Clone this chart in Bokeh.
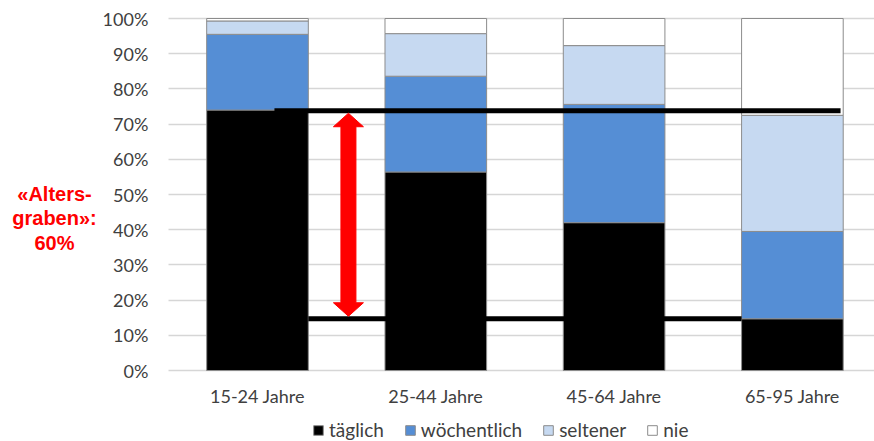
from bokeh.plotting import figure
from bokeh.models import Range1d, FixedTicker, Label, BoxAnnotation
from bokeh.embed import file_html
from bokeh.resources import INLINE

# ---- data ----
categories = ["15-24 Jahre", "25-44 Jahre", "45-64 Jahre", "65-95 Jahre"]
taeglich = [74.0, 56.4, 42.0, 14.7]
woechentlich = [21.5, 27.2, 33.6, 24.8]
seltener = [3.8, 12.1, 16.7, 33.0]
nie = [0.7, 4.3, 7.7, 27.5]
series_names = ["täglich", "wöchentlich", "seltener", "nie"]
y_ticks = [0, 10, 20, 30, 40, 50, 60, 70, 80, 90, 100]
y_tick_labels = [f"{t}%" for t in y_ticks]
gap_high = 73.8   # level of "täglich" for 15-24
gap_low = 14.7    # level of "täglich" for 65-95
gap_text = ["«Alters-", "graben»:", "60%"]

# ---- styling / layout ----
colors = ["#000000", "#558ED5", "#C6D9F1", "#FFFFFF"]
FONT = "Lato"
TXT = "#404040"
W, H = 874, 441
CAT1_PX = 257.0     # pixel centre of first category
CAT_PX = 178.3      # pixels per category
BASE_PX = 370.0     # pixel row of 0 %
PCT_PX = 3.52       # pixels per percent
BAR_W = 0.57

x0 = 1 - CAT1_PX / CAT_PX
x1 = 1 + (W - CAT1_PX) / CAT_PX
y0 = -(H - BASE_PX) / PCT_PX
y1 = BASE_PX / PCT_PX
px_x = 1.0 / CAT_PX
px_y = 1.0 / PCT_PX
x_left = 0.5        # left edge of plotting area (category slot edge)

xs = list(range(1, len(categories) + 1))
source = dict(x=xs, **{"täglich": taeglich, "wöchentlich": woechentlich,
                       "seltener": seltener, "nie": nie})

p = figure(width=W, height=H, output_backend="svg", toolbar_location=None,
           x_range=Range1d(x0, x1), y_range=Range1d(y0, y1),
           min_border_left=0, min_border_right=0,
           min_border_top=0, min_border_bottom=0)
p.outline_line_color = None
p.background_fill_color = "white"
p.border_fill_color = "white"

# grid
p.xgrid.grid_line_color = None
p.ygrid.grid_line_color = "#d6d6d6"
p.ygrid.grid_line_width = 1.4
p.ygrid.ticker = FixedTicker(ticks=y_ticks)
if hasattr(p.ygrid[0], "cross_bounds"):
    p.ygrid.cross_bounds = (x_left, x1)
else:
    p.add_layout(BoxAnnotation(right=x_left, fill_color="white", fill_alpha=1,
                               line_alpha=0, level="underlay"))

p.vbar_stack(series_names, x="x", width=BAR_W, source=source,
             fill_color=colors, line_color="#8c8c8c", line_width=1,
             legend_label=series_names)

# annotation lines
p.segment(x0=[xs[0] + 0.095], y0=[gap_high], x1=[xs[-1] + 0.27], y1=[gap_high],
          line_color="black", line_width=5)
p.segment(x0=[xs[0] + BAR_W / 2], y0=[gap_low], x1=[xs[-1] - BAR_W / 2], y1=[gap_low],
          line_color="black", line_width=5)

# double arrow
xa = 1.51
top = gap_high - 2.5 * px_y
bot = gap_low + 2.5 * px_y
hw, sw, hl = 15 * px_x, 7.5 * px_x, 13.5 * px_y
ax = [xa, xa + hw, xa + sw, xa + sw, xa + hw, xa, xa - hw, xa - sw, xa - sw, xa - hw]
ay = [top, top - hl, top - hl, bot + hl, bot + hl, bot, bot + hl, bot + hl, top - hl, top - hl]
p.patch(ax, ay, fill_color="#FF0000", line_color="#FF0000", line_width=1)

# axes (placed at fixed data locations)
p.yaxis.fixed_location = x_left
p.yaxis.ticker = FixedTicker(ticks=y_ticks)
p.yaxis.major_label_overrides = {t: l for t, l in zip(y_ticks, y_tick_labels)}
p.yaxis.axis_line_color = None
p.yaxis.major_tick_line_color = None
p.yaxis.minor_tick_line_color = None
p.yaxis.major_tick_out = 0
p.yaxis.major_tick_in = 0
p.yaxis.major_label_standoff = 20
p.yaxis.major_label_text_font = FONT
p.yaxis.major_label_text_font_size = "18px"
p.yaxis.major_label_text_color = TXT

p.xaxis.fixed_location = 0
p.xaxis.ticker = FixedTicker(ticks=xs)
p.xaxis.major_label_overrides = {x: c for x, c in zip(xs, categories)}
p.xaxis.axis_line_color = None
p.xaxis.major_tick_line_color = None
p.xaxis.minor_tick_line_color = None
p.xaxis.major_tick_out = 0
p.xaxis.major_tick_in = 0
p.xaxis.major_label_standoff = 14
p.xaxis.major_label_text_font = FONT
p.xaxis.major_label_text_font_size = "18px"
p.xaxis.major_label_text_color = TXT

# legend
lg = p.legend[0]
lg.orientation = "horizontal"
lg.location = (312, 0)
lg.glyph_width = 12
lg.glyph_height = 12
lg.label_standoff = 5
lg.spacing = 20
lg.padding = 0
lg.margin = 0
lg.border_line_alpha = 0
lg.background_fill_alpha = 0
lg.label_text_font = FONT
lg.label_text_font_size = "19px"
lg.label_text_color = TXT

# red annotation text
for i, t in enumerate(gap_text):
    p.add_layout(Label(x=54, y=H - (193 + 24.5 * i), x_units="screen", y_units="screen",
                       text=t, text_align="center", text_baseline="middle",
                       text_font="Liberation Sans", text_font_style="bold",
                       text_font_size="20px", text_color="#FF0000"))

open("out.html", "w").write(file_html(p, INLINE))
